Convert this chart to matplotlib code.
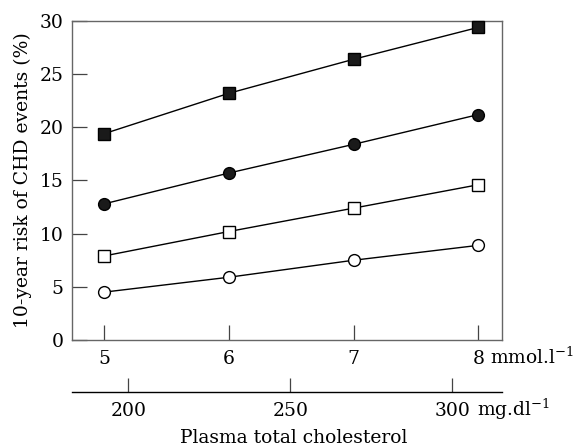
import matplotlib.pyplot as plt

plt.rcParams['font.family'] = ['DejaVu Serif']
plt.rcParams['mathtext.fontset'] = 'dejavuserif'

# cholesterol (mmol/l) and 10-year risk (%) for the four groups
chol_mmol = [5, 6, 7, 8]
risk_filled_sq = [19.4, 23.2, 26.4, 29.4]
risk_filled_ci = [12.8, 15.7, 18.4, 21.2]
risk_open_sq = [7.9, 10.2, 12.4, 14.6]
risk_open_ci = [4.5, 5.9, 7.5, 8.9]
y_ticks = [0, 5, 10, 15, 20, 25, 30]
mg_ticks = [200, 250, 300]
MG_PER_MMOL = 38.5

FS = 13.5

fig = plt.figure(figsize=(5.74, 4.48), dpi=100)
ax = fig.add_axes([0.1254, 0.2411, 0.7492, 0.712])

kw = dict(color='black', lw=1.0, markersize=8.5, markeredgewidth=1.0,
          markeredgecolor='black', clip_on=False, zorder=3)
ax.plot(chol_mmol, risk_filled_sq, marker='s', markerfacecolor='#1a1a1a', **kw)
ax.plot(chol_mmol, risk_filled_ci, marker='o', markerfacecolor='#1a1a1a', **kw)
ax.plot(chol_mmol, risk_open_sq, marker='s', markerfacecolor='white', **kw)
ax.plot(chol_mmol, risk_open_ci, marker='o', markerfacecolor='white', **kw)

ax.set_xlim(4.743, 8.19)
ax.set_ylim(0, 30)
ax.set_xticks(chol_mmol)
ax.set_yticks(y_ticks)
for s in ax.spines.values():
    s.set_color('#666666')
    s.set_linewidth(1.0)
ax.tick_params(direction='in', length=10.5, width=0.9, color='#444444',
               labelsize=FS, pad=7)
ax.tick_params(axis='y', pad=6)
ax.set_ylabel('10-year risk of CHD events (%)', fontsize=FS)
ax.yaxis.set_label_coords(-0.093, 0.5)

ax.annotate('mmol.l$^{-1}$', xy=(8, 0), xycoords='data', xytext=(8.6, -17.3),
            textcoords='offset points', ha='left', va='baseline', fontsize=FS,
            annotation_clip=False)

# second scale in mg/dl
sec = ax.secondary_xaxis(-0.163, functions=(lambda x: x * MG_PER_MMOL,
                                            lambda x: x / MG_PER_MMOL))
sec.set_xticks(mg_ticks)
sec.spines['bottom'].set_color('black')
sec.spines['bottom'].set_linewidth(1.0)
sec.tick_params(direction='in', length=10, width=0.9, color='#444444',
                labelsize=FS, pad=7)
ax.annotate('mg.dl$^{-1}$', xy=(300 / MG_PER_MMOL, 0), xycoords='data',
            xytext=(18, -54.7), textcoords='offset points', ha='left', va='baseline',
            fontsize=FS, annotation_clip=False)

fig.text(0.511, 0.011, 'Plasma total cholesterol', ha='center', va='baseline', fontsize=FS)

fig.savefig('out.png', dpi=100)
